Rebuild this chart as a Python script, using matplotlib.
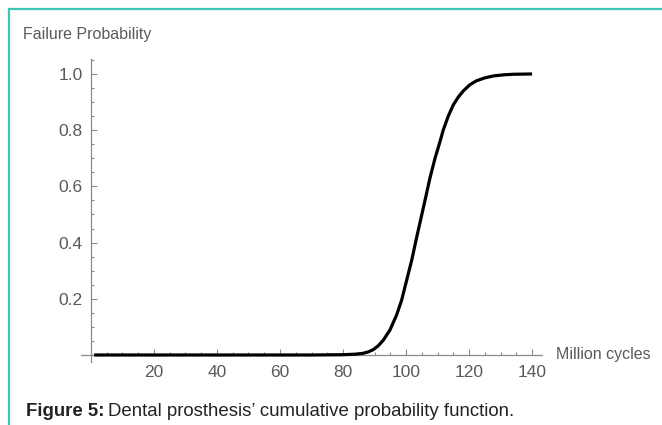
import matplotlib
matplotlib.use("Agg")
import matplotlib.pyplot as plt
from matplotlib.lines import Line2D
from matplotlib.ticker import MultipleLocator, FixedLocator

plt.rcParams['font.family'] = ['Liberation Sans', 'DejaVu Sans']

# values (million cycles, failure probability)
cycles = [1, 40, 70, 80, 84, 86.4, 88.0, 89.6, 91.2, 92.8, 94.9, 97.0, 98.6,
          100.2, 101.8, 103.4, 105.5, 107.6, 109.2, 110.8, 111.8, 113.4,
          115.0, 116.6, 118.2, 120.3, 122.4, 125.0, 127.7, 131.0, 134.1, 140]
prob = [0, 0, 0, 0.001, 0.003, 0.006, 0.011, 0.019, 0.033, 0.053, 0.089,
        0.142, 0.195, 0.266, 0.337, 0.42, 0.524, 0.63, 0.70, 0.76, 0.80,
        0.85, 0.89, 0.918, 0.94, 0.962, 0.976, 0.986, 0.993, 0.997, 0.999, 1.0]

x_ticks = [20, 40, 60, 80, 100, 120, 140]
y_ticks = [0.2, 0.4, 0.6, 0.8, 1.0]
y_labels = ['0.2', '0.4', '0.6', '0.8', '1.0']

grey = '#5a5a5a'
axis_grey = '#8a8a8a'
teal = '#3cc8b2'

fig = plt.figure(figsize=(6.62, 4.25), dpi=100)
ax = fig.add_axes([0.1231, 0.1482, 0.6949, 0.7141])

ax.plot(cycles, prob, color='black', lw=2.3, solid_capstyle='butt', zorder=3)

ax.set_xlim(-3, 143)
ax.set_ylim(-0.025, 1.055)

for s in ['top', 'right']:
    ax.spines[s].set_visible(False)
ax.spines['left'].set_position(('data', 0))
ax.spines['bottom'].set_position(('data', 0))
for s in ['left', 'bottom']:
    ax.spines[s].set_color(axis_grey)
    ax.spines[s].set_linewidth(0.9)

ax.xaxis.set_major_locator(FixedLocator(x_ticks))
ax.xaxis.set_minor_locator(MultipleLocator(5))
ax.yaxis.set_major_locator(FixedLocator(y_ticks))
ax.yaxis.set_minor_locator(MultipleLocator(0.05))
ax.set_yticklabels(y_labels)

ax.tick_params(which='both', direction='in', color=axis_grey, width=0.8,
               labelcolor=grey, labelsize=12.5)
ax.tick_params(which='major', length=4.5)
ax.tick_params(which='minor', length=2.5)
ax.tick_params(axis='x', which='major', pad=7)
ax.tick_params(axis='y', which='major', pad=6)

fig.text(22.7 / 662, 1 - 35 / 425, 'Failure Probability', color=grey,
         fontsize=11.5, va='center', ha='left')
fig.text(556 / 662, 1 - 355 / 425, 'Million cycles', color=grey,
         fontsize=11.5, va='center', ha='left')

# caption: bold part followed by normal part
t1 = fig.text(26 / 662, 1 - 416 / 425, 'Figure 5:', color='#222222',
              fontsize=13.4, fontweight='bold', va='baseline', ha='left')
fig.canvas.draw()
bb = t1.get_window_extent(fig.canvas.get_renderer())
x_next = (bb.x1 + 4) / fig.bbox.width
fig.text(x_next, 1 - 416 / 425, "Dental prosthesis\u2019 cumulative probability function.",
         color='#222222', fontsize=13.4, va='baseline', ha='left')

# teal frame lines (left and top)
fig.add_artist(Line2D([8.5 / 662, 8.5 / 662], [0, 1 - 9 / 425],
                      transform=fig.transFigure, color=teal, lw=1.6))
fig.add_artist(Line2D([8.5 / 662, 1], [1 - 9 / 425, 1 - 9 / 425],
                      transform=fig.transFigure, color=teal, lw=1.6))

fig.savefig('out.png', dpi=100)
